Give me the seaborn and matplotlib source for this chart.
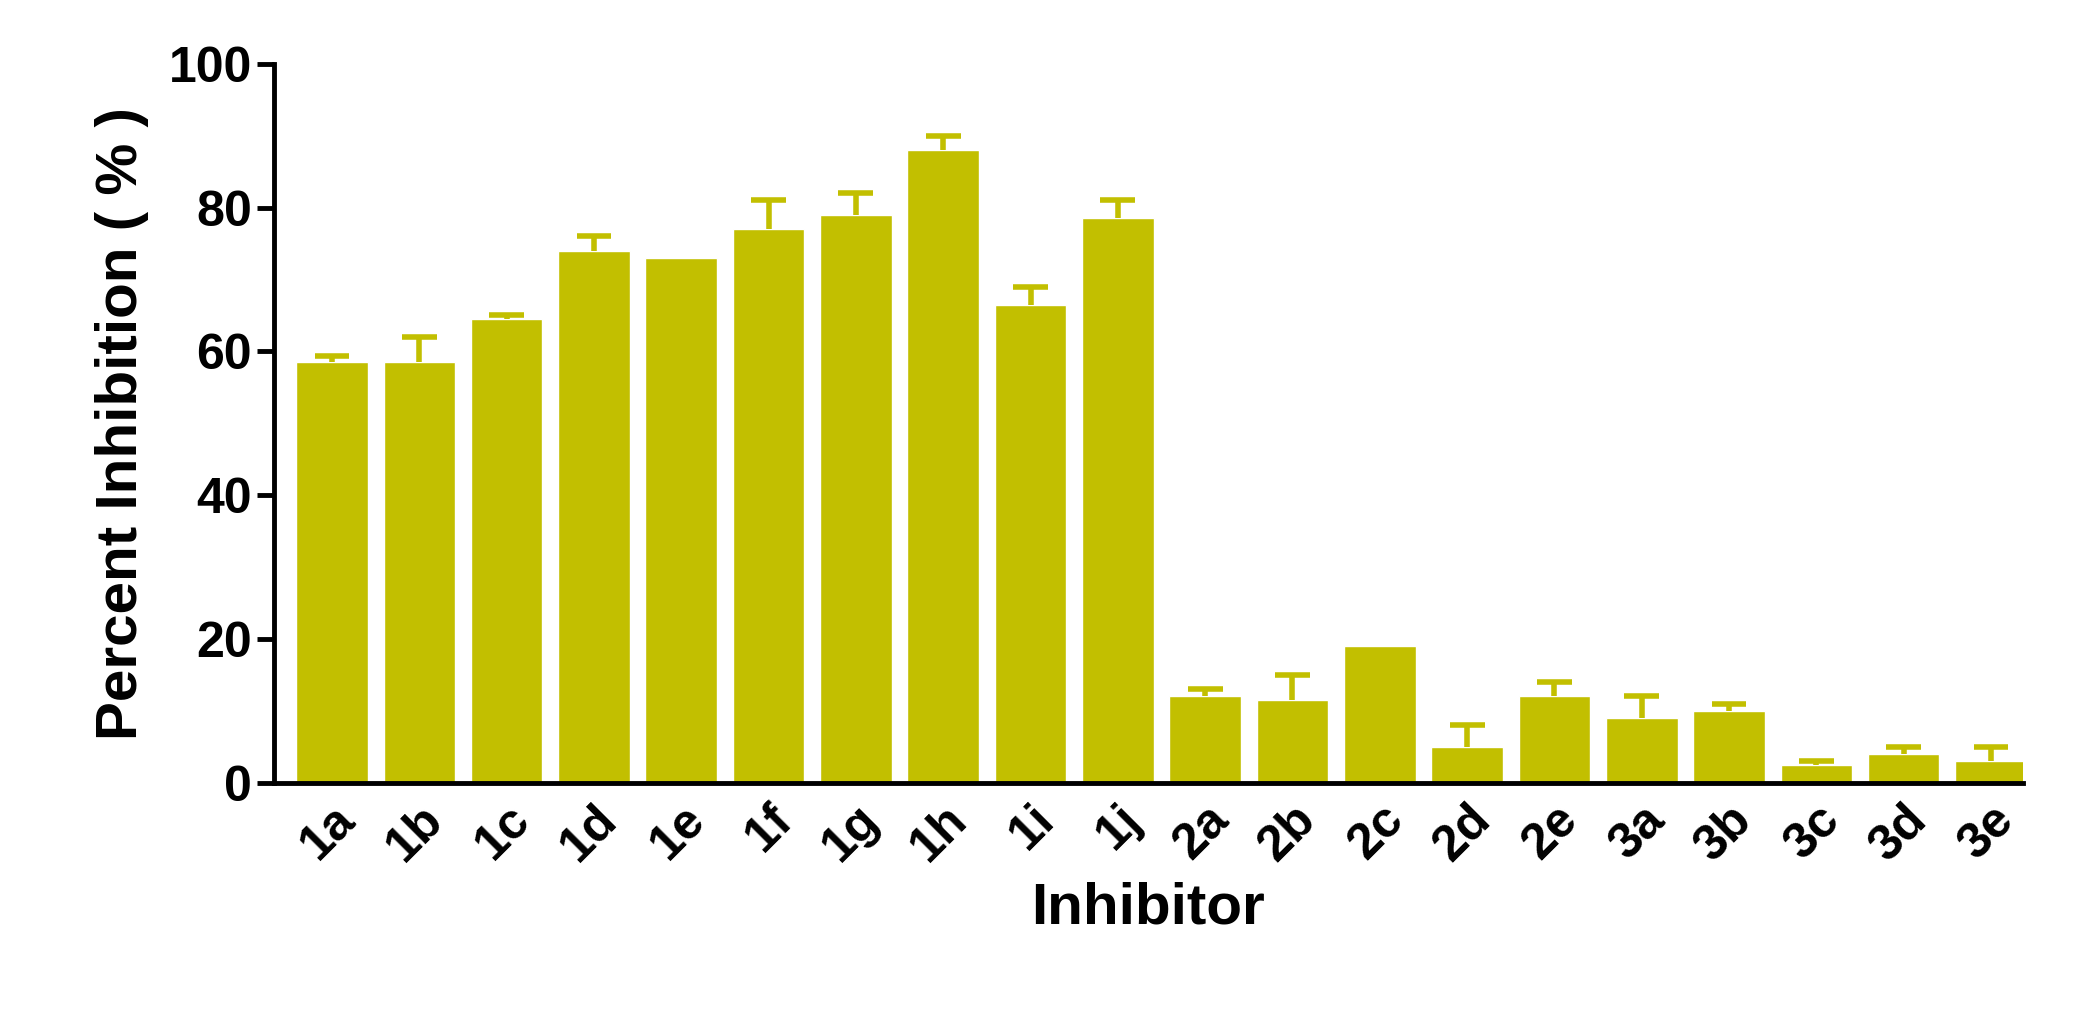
import numpy as np
import pandas as pd
import matplotlib.pyplot as plt
import seaborn as sns

inhibitors = ['1a','1b','1c','1d','1e','1f','1g','1h','1i','1j',
              '2a','2b','2c','2d','2e','3a','3b','3c','3d','3e']
inhibition = [58.5,58.5,64.5,74,73,77,79,88,66.5,78.5,
              12,11.5,19,5,12,9,10,2.5,4,3]
err_up = [0.8,3.5,0.6,2,0,4,3,2,2.5,2.5,
          1,3.5,0,3,2,3,1,0.5,1,2]

df = pd.DataFrame({'Inhibitor': inhibitors, 'val': inhibition})
col = '#C2BF00'

sns.set_style('ticks')
plt.rcParams['font.family'] = ['Liberation Sans', 'DejaVu Sans']
plt.rcParams['font.weight'] = 'bold'

fig = plt.figure(figsize=(20.88, 10.15), dpi=100)
ax = fig.add_axes([0.131, 0.229, 0.838, 0.708])
sns.barplot(data=df, x='Inhibitor', y='val', color=col, saturation=1,
            width=0.82, ax=ax)
# upper-only error bars
x = np.arange(len(inhibitors))
val = np.array(inhibition)
top = val + np.array(err_up)
has = np.array(err_up) > 0
ax.vlines(x[has], val[has], top[has], color=col, lw=4)
ax.hlines(top[has], x[has] - 0.2, x[has] + 0.2, color=col, lw=4)

ax.set_xlim(-0.67, 19.37)
ax.set_ylim(0, 100)
ax.set_yticks([0, 20, 40, 60, 80, 100])
sns.despine(ax=ax)
for s in ['left', 'bottom']:
    ax.spines[s].set_linewidth(3.5)
    ax.spines[s].set_color('black')
ax.tick_params(axis='both', width=3.5, length=12, labelsize=36, colors='black')
ax.tick_params(axis='x', length=0, pad=10)
plt.setp(ax.get_xticklabels(), rotation=45, ha='right', rotation_mode='anchor',
         fontweight='bold')
plt.setp(ax.get_yticklabels(), fontweight='bold')
ax.set_xlabel('Inhibitor', fontsize=42, fontweight='bold', labelpad=8, color='black')
ax.set_ylabel('Percent Inhibition ( % )', fontsize=42, fontweight='bold',
              labelpad=14, color='black')

fig.savefig('out.png', dpi=100)
